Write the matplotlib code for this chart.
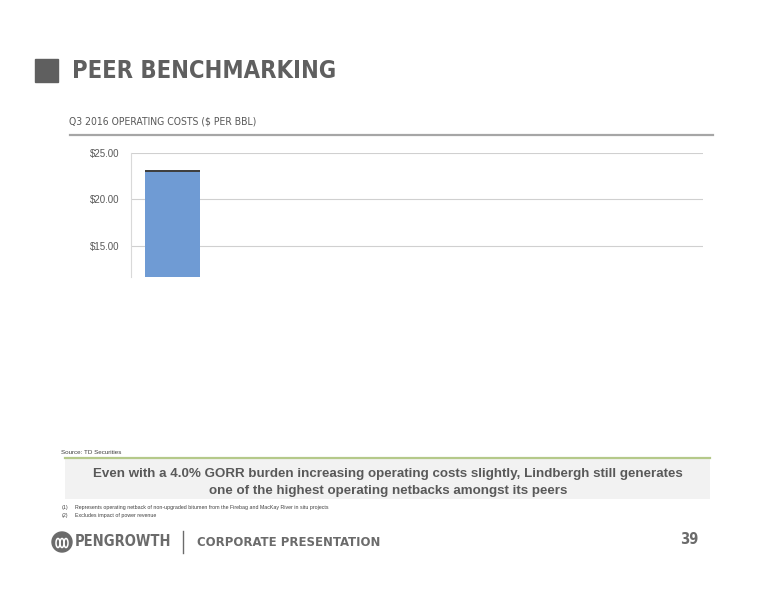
import matplotlib
matplotlib.use("Agg")
import matplotlib.pyplot as plt
from matplotlib.patches import Rectangle, Circle, Arc

# data
categories = ["Lindbergh"]
base_cost = [22.95]
gorr_cost = [0.20]
ytick_vals = [15, 20, 25]
ytick_labels = ["$15.00", "$20.00", "$25.00"]

narrow = ["DejaVu Sans"]
arial = ["Liberation Sans", "DejaVu Sans"]
grey = "#595959"

fig = plt.figure(figsize=(7.76, 6.0), dpi=100)

# overlay in pixel coords for the slide decoration
ov = fig.add_axes([0, 0, 1, 1], zorder=0)
ov.set_xlim(0, 776)
ov.set_ylim(600, 0)
ov.axis("off")

ov.add_patch(Rectangle((35, 59), 23, 23, color="#5f5f5f"))
ov.text(72, 71, "PEER BENCHMARKING", family=narrow, weight="bold", stretch="condensed",
        fontsize=17, color="#5f5f5f", va="center", ha="left")
ov.text(69, 122, "Q3 2016 OPERATING COSTS ($ PER BBL)", family=narrow, stretch="condensed",
        fontsize=7.5, color=grey, va="center", ha="left")
ov.plot([70, 713], [135, 135], color="#a6a6a6", lw=1.6)

ov.text(61, 452, "Source: TD Securities", family=arial, fontsize=4.5,
        color="#404040", va="center")
ov.add_patch(Rectangle((65, 458), 645, 41, color="#f2f2f2", lw=0))
ov.plot([65, 710], [458, 458], color="#b5c98a", lw=1.6)
ov.text(388, 482.5, "Even with a 4.0% GORR burden increasing operating costs slightly, "
        "Lindbergh still generates\none of the highest operating netbacks amongst its peers",
        family=arial, weight="bold", fontsize=9.6, color=grey,
        ha="center", va="center", linespacing=1.45)
ov.text(62, 508, "(1)", family=arial, fontsize=3.8, color="#404040", va="center")
ov.text(75, 508, "Represents operating netback of non-upgraded bitumen from the Firebag "
        "and MacKay River in situ projects", family=arial, fontsize=3.8,
        color="#404040", va="center")
ov.text(62, 515, "(2)", family=arial, fontsize=3.8, color="#404040", va="center")
ov.text(75, 515, "Excludes impact of power revenue", family=arial, fontsize=3.8,
        color="#404040", va="center")

# footer
ov.add_patch(Circle((62, 542), 10, color="#6b6b6b"))
for dx in (-4, 0, 4):
    ov.add_patch(Arc((62 + dx, 543), 4, 9, theta1=0, theta2=360,
                     color="white", lw=1.1))
ov.text(75, 542, "PENGROWTH", family=narrow, stretch="condensed",
        weight="bold", fontsize=10.5, color="#6b6b6b", va="center")
ov.plot([183, 183], [531, 553], color="#6b6b6b", lw=1)
ov.text(197, 542, "CORPORATE PRESENTATION", family=narrow, weight="bold",
        stretch="condensed", fontsize=9.4, color="#6b6b6b", va="center")
ov.text(698, 540, "39", family=narrow, weight="bold", stretch="condensed", fontsize=10.5,
        color="#6b6b6b", va="center", ha="right")

# chart
ax = fig.add_axes([131 / 776, 1 - 277 / 600, 572 / 776, 124 / 600], zorder=1)
ax.patch.set_alpha(0)
x = list(range(len(categories)))
ax.bar(x, base_cost, width=1.0, color="#6f9bd4", zorder=2)
ax.bar(x, gorr_cost, bottom=base_cost, width=1.0, color="#3f3f3f", zorder=2)
ax.set_xlim(-0.755, 9.645)
ax.set_ylim(11.6, 25)
ax.set_yticks(ytick_vals)
ax.set_yticklabels(ytick_labels, family=arial, fontsize=7, color=grey)
ax.tick_params(axis="y", length=0, pad=8)
ax.set_xticks([])
ax.grid(axis="y", color="#d0d0d0", lw=0.8, zorder=0)
for s in ("top", "right", "bottom"):
    ax.spines[s].set_visible(False)
ax.spines["left"].set_color("#d9d9d9")

fig.savefig("out.png", dpi=100)
